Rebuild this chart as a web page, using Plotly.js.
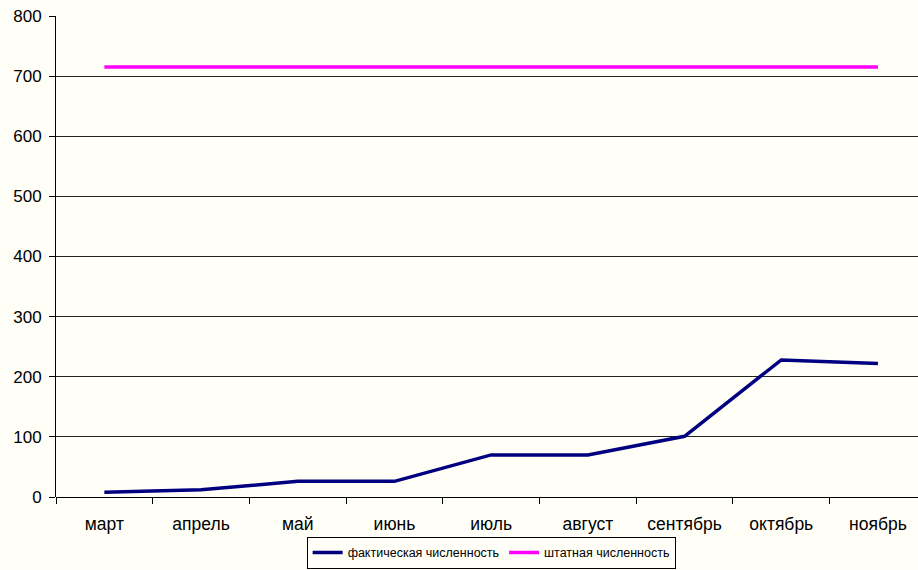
<!DOCTYPE html>
<html>
<head>
<meta charset="utf-8">
<script src="https://cdn.plot.ly/plotly-3.0.1.min.js"></script>
<style>html,body{margin:0;padding:0;background:#FFFFF7;}</style>
</head>
<body>
<div id="chart" style="width:918px;height:570px;"></div>
<script>
const months = ["март","апрель","май","июнь","июль","август","сентябрь","октябрь","ноябрь"];
const actual = [8, 12, 26, 26, 70, 70, 101, 228, 222];
const staff = [715, 715, 715, 715, 715, 715, 715, 715, 715];
const seriesNames = ["фактическая численность", "штатная численность"];

const traces = [
  {x: months, y: actual, name: seriesNames[0], type: "scatter", mode: "lines",
   line: {color: "#000080", width: 3.5}},
  {x: months, y: staff, name: seriesNames[1], type: "scatter", mode: "lines",
   line: {color: "#FF00FF", width: 3.5}}
];

const layout = {
  width: 918, height: 570,
  paper_bgcolor: "#FFFFF7", plot_bgcolor: "#FFFFF7",
  margin: {l: 56, r: 0, t: 16, b: 73, autoexpand: false},
  font: {family: "Liberation Sans, Arial, sans-serif", color: "#000", size: 17},
  showlegend: true,
  xaxis: {
    type: "category", range: [-0.5, 8.414], tickson: "boundaries",
    ticks: "outside", ticklen: 6, tickcolor: "#000", showline: false,
    showgrid: false, zeroline: false, tickfont: {size: 17.5},
    ticklabelstandoff: 14, automargin: false, fixedrange: true
  },
  yaxis: {
    range: [0, 800], dtick: 100, ticks: "outside", ticklen: 6, tickcolor: "#000",
    showline: true, linecolor: "#000", linewidth: 1,
    showgrid: true, gridcolor: "#222", gridwidth: 1,
    zeroline: true, zerolinecolor: "#000", zerolinewidth: 1,
    tickfont: {size: 17}, ticklabelstandoff: 4, automargin: false, fixedrange: true
  },
  legend: {
    orientation: "h", x: 0.535, xref: "container", xanchor: "center",
    y: 0.002, yref: "container", yanchor: "bottom",
    bgcolor: "#FFFFF7", bordercolor: "#000", borderwidth: 1,
    font: {size: 12.5}, itemwidth: 30, tracegroupgap: 0,
    traceorder: "normal"
  }
};

Plotly.newPlot("chart", traces, layout, {staticPlot: true});
</script>
</body>
</html>
